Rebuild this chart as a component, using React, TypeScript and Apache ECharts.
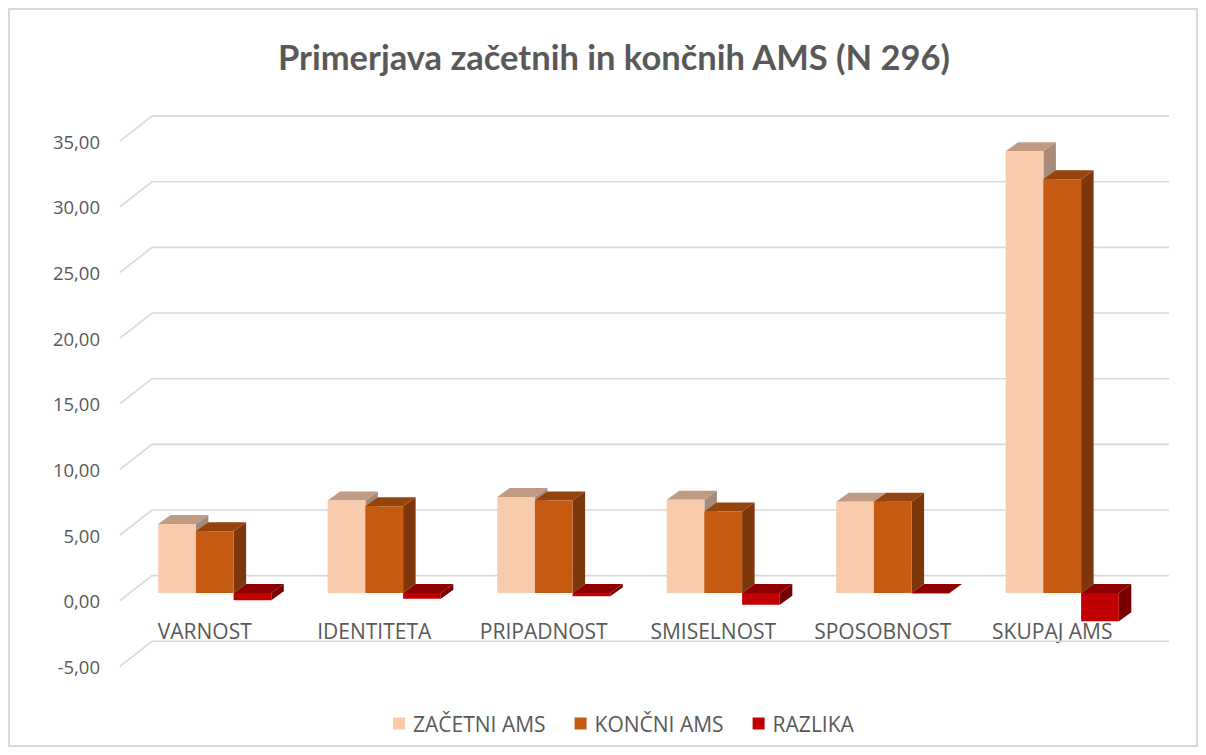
import React, { useEffect, useRef } from "react";
import * as echarts from "echarts";

// ---- data ----
const categories = ["VARNOST", "IDENTITETA", "PRIPADNOST", "SMISELNOST", "SPOSOBNOST", "SKUPAJ AMS"];
const zacetniAms = [5.25, 7.05, 7.3, 7.1, 6.95, 33.65];
const koncniAms = [4.7, 6.6, 7.05, 6.2, 6.95, 31.5];
const razlika = [-0.55, -0.45, -0.25, -0.9, -0.03, -2.15];
const seriesNames = ["ZAČETNI AMS", "KONČNI AMS", "RAZLIKA"];
const yTicks = [-5, 0, 5, 10, 15, 20, 25, 30, 35];
const titleText = "Primerjava začetnih in končnih AMS (N 296)";

// ---- geometry / style ----
const FRONT = { dx: -10, dy: 7.7 };
const BACK = { dx: 22, dy: -17.3 };
const BAR_DEPTH = { dx: 12.5, dy: -9 };
const BAR_RATIO = 0.2225;
const GRID_LEFT = 122;
const GRID_TOP = 125.4;
const GRID_W = 1017;
const GRID_H = 525.2;
const Y_MIN = -5;
const Y_MAX = 35;
const ZERO_FROM_TOP = (GRID_H * Y_MAX) / (Y_MAX - Y_MIN);

const palette = [
  { front: "#F8CBAD", top: "#C09B84", side: "#A78A77" },
  { front: "#C55A11", top: "#96440D", side: "#7D370A" },
  { front: "#C00000", top: "#8E0000", side: "#760000" },
];

const fmt = (v: number) => v.toFixed(2).replace(".", ",");

function barRenderer(sIdx: number) {
  const c = palette[sIdx];
  return (params: any, api: any) => {
    const cat = api.value(0);
    const val = api.value(1);
    const p0 = api.coord([cat, 0]);
    const p1 = api.coord([cat, val]);
    const band = api.size([1, 0])[0];
    const bw = band * BAR_RATIO;
    const x0 = p0[0] + (sIdx - 1.5) * bw;
    const x1 = x0 + bw;
    const yT = Math.min(p0[1], p1[1]);
    const yB = Math.max(p0[1], p1[1]);
    const { dx, dy } = BAR_DEPTH;
    return {
      type: "group",
      children: [
        {
          type: "polygon",
          shape: { points: [[x1, yT], [x1 + dx, yT + dy], [x1 + dx, yB + dy], [x1, yB]] },
          style: { fill: c.side },
        },
        {
          type: "polygon",
          shape: { points: [[x0, yT], [x1, yT], [x1 + dx, yT + dy], [x0 + dx, yT + dy]] },
          style: { fill: c.top },
        },
        {
          type: "rect",
          shape: { x: x0, y: yT, width: bw, height: Math.max(yB - yT, 0.5) },
          style: { fill: c.front },
        },
      ],
    };
  };
}

function gridRenderer(params: any, api: any) {
  const v = api.value(1);
  const y = api.coord([0, v])[1];
  const cs = params.coordSys;
  return {
    type: "polyline",
    shape: {
      points: [
        [cs.x + FRONT.dx, y + FRONT.dy],
        [cs.x + BACK.dx, y + BACK.dy],
        [cs.x + cs.width + BACK.dx, y + BACK.dy],
      ],
    },
    style: { stroke: "#D9D9D9", lineWidth: 1.6, fill: "none" },
  };
}

export default function App() {
  const ref = useRef<HTMLDivElement>(null);
  useEffect(() => {
    if (!ref.current) return;
    const chart = echarts.init(ref.current, undefined, { renderer: "svg" });
    const seriesData = [zacetniAms, koncniAms, razlika];
    chart.setOption({
      animation: false,
      backgroundColor: "#FFFFFF",
      title: {
        text: titleText,
        left: 601,
        textAlign: "center",
        top: 26,
        textStyle: { fontFamily: "Lato", fontWeight: "bold", fontSize: 34.5, color: "#595959" },
      },
      legend: {
        data: seriesNames,
        left: 380,
        top: 700,
        itemWidth: 12,
        itemHeight: 12,
        itemGap: 29,
        icon: "rect",
        textStyle: { fontFamily: "Open Sans", fontSize: 21, color: "#595959", padding: [0, 0, 0, 3] },
      },
      graphic: [
        {
          type: "rect",
          shape: { x: 1, y: 1, width: 1188, height: 737 },
          style: { fill: "none", stroke: "#D9D9D9", lineWidth: 2 },
          silent: true,
          z: -10,
        },
      ],
      grid: [
        {
          left: GRID_LEFT + FRONT.dx,
          top: GRID_TOP + FRONT.dy,
          width: GRID_W,
          height: GRID_H,
        },
        { left: GRID_LEFT, top: GRID_TOP, width: GRID_W, height: GRID_H },
        {
          left: GRID_LEFT + FRONT.dx,
          top: GRID_TOP + FRONT.dy,
          width: GRID_W,
          height: ZERO_FROM_TOP,
        },
      ],
      xAxis: [
        {
          type: "category",
          gridIndex: 0,
          data: categories,
          show: false,
        },
        {
          type: "category",
          gridIndex: 1,
          data: categories,
          show: false,
        },
        {
          type: "category",
          gridIndex: 2,
          data: categories,
          position: "bottom",
          axisLine: { show: false, onZero: false },
          axisTick: { show: false },
          axisLabel: { fontFamily: "Open Sans", fontSize: 21, color: "#595959", margin: 20, interval: 0 },
          splitLine: { show: false },
        },
      ],
      yAxis: [
        {
          type: "value",
          gridIndex: 0,
          min: Y_MIN,
          max: Y_MAX,
          interval: 5,
          axisLine: { show: false },
          axisTick: { show: false },
          splitLine: { show: false },
          axisLabel: {
            fontFamily: "Open Sans",
            fontSize: 18.5,
            color: "#595959",
            margin: 20,
            formatter: (v: number) => fmt(v),
          },
        },
        {
          type: "value",
          gridIndex: 1,
          min: Y_MIN,
          max: Y_MAX,
          interval: 5,
          show: false,
          splitLine: { show: false },
        },
        {
          type: "value",
          gridIndex: 2,
          min: 0,
          max: Y_MAX,
          show: false,
          splitLine: { show: false },
        },
      ],
      series: [
        {
          type: "custom",
          name: "__grid",
          xAxisIndex: 1,
          yAxisIndex: 1,
          renderItem: gridRenderer,
          data: yTicks.map((v) => [0, v]),
          silent: true,
          z: 1,
        },
        ...seriesNames.map((name, s) => ({
          type: "custom",
          name,
          xAxisIndex: 1,
          yAxisIndex: 1,
          itemStyle: { color: palette[s].front },
          renderItem: barRenderer(s),
          data: categories.map((_, i) => [i, seriesData[s][i]]),
          z: 2 + s,
        })),
      ],
    });
    return () => chart.dispose();
  }, []);
  return <div ref={ref} style={{ width: 1190, height: 739 }} />;
}
